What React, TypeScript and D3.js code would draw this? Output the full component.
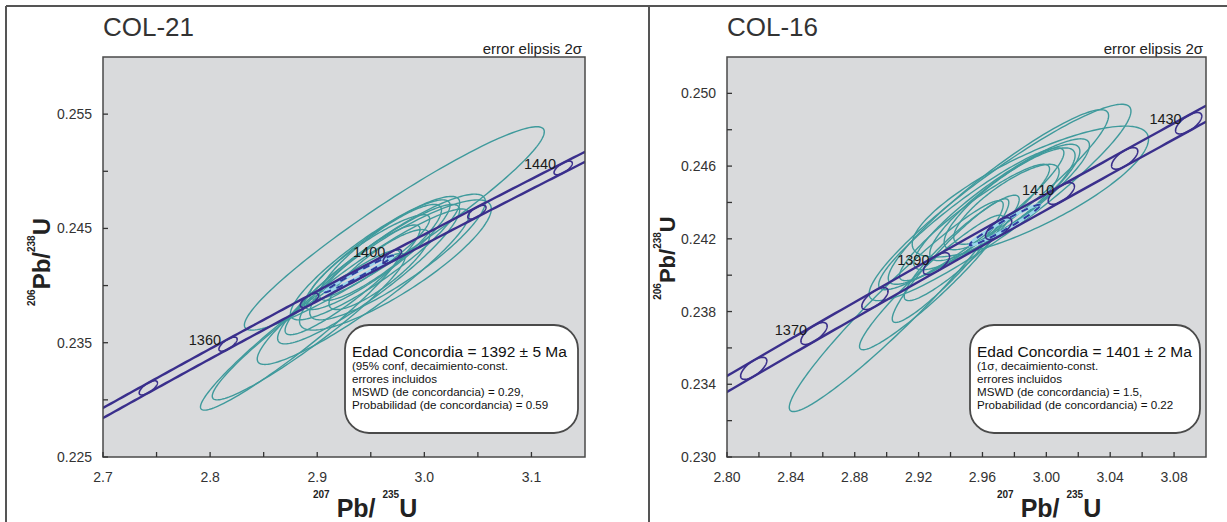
import React from "react";
import * as d3 from "d3";

// decay constants (per Ma)
const L235 = 9.8485e-4;
const L238 = 1.55125e-4;

// ---------- COL-21 ----------
const col21XTicks = [2.7, 2.8, 2.9, 3.0, 3.1];
const col21XMinor = [2.75, 2.85, 2.95, 3.05];
const col21YTicks = [0.225, 0.235, 0.245, 0.255];
const col21YMinor = [0.23, 0.24, 0.25];
const col21Ages = [1340, 1360, 1380, 1400, 1420, 1440];
const col21AgeLabels = [1360, 1400, 1440];
const col21Cx = [2.972, 2.884, 2.892, 2.943, 2.948, 2.973, 2.975, 2.954, 2.956, 2.959, 2.949, 2.933, 2.958];
const col21Cy = [0.2450, 0.2361, 0.2364, 0.2399, 0.2410, 0.2418, 0.2425, 0.2424, 0.2427, 0.2429, 0.2425, 0.2405, 0.2414];
const col21Sx = [0.140, 0.093, 0.090, 0.099, 0.085, 0.0895, 0.082, 0.079, 0.068, 0.057, 0.056, 0.063, 0.047];
const col21Sy = [0.0089, 0.0070, 0.0064, 0.0068, 0.0061, 0.0057, 0.0055, 0.0054, 0.0048, 0.0042, 0.0037, 0.0048, 0.0035];
const col21Rho = [0.95, 0.96, 0.95, 0.93, 0.92, 0.86, 0.88, 0.9, 0.9, 0.88, 0.9, 0.92, 0.85];
const col21Info = [
  "(95% conf, decaimiento-const.",
  "errores incluidos",
  "MSWD (de concordancia) = 0.29,",
  "Probabilidad (de concordancia) = 0.59",
];
const col21Age = 1392;
const col21AgeErr = 5;

// ---------- COL-16 ----------
const col16XTicks = [2.8, 2.84, 2.88, 2.92, 2.96, 3.0, 3.04, 3.08];
const col16XMinor = [2.82, 2.86, 2.9, 2.94, 2.98, 3.02, 3.06];
const col16YTicks = [0.23, 0.234, 0.238, 0.242, 0.246, 0.25];
const col16YMinor = [0.232, 0.236, 0.24, 0.244, 0.248];
const col16Ages = [1360, 1370, 1380, 1390, 1400, 1410, 1420, 1430];
const col16AgeLabels = [1370, 1390, 1410, 1430];
const col16Cx = [2.906, 2.928, 2.940, 2.947, 2.971, 2.970, 2.990, 2.972, 2.974, 2.977, 2.953, 2.975, 2.955];
const col16Cy = [0.2383, 0.2396, 0.2408, 0.2415, 0.2440, 0.2443, 0.2446, 0.2439, 0.2440, 0.2442, 0.2431, 0.2439, 0.2429];
const col16Sx = [0.067, 0.045, 0.0365, 0.036, 0.082, 0.069, 0.074, 0.055, 0.047, 0.041, 0.058, 0.033, 0.047];
const col16Sy = [0.0058, 0.0037, 0.0034, 0.0029, 0.0054, 0.0048, 0.0036, 0.0036, 0.0032, 0.0028, 0.0039, 0.0022, 0.0032];
const col16Rho = [0.96, 0.95, 0.94, 0.92, 0.93, 0.93, 0.8, 0.9, 0.88, 0.85, 0.93, 0.82, 0.92];
const col16Info = [
  "(1σ, decaimiento-const.",
  "errores incluidos",
  "MSWD (de concordancia) = 1.5,",
  "Probabilidad (de concordancia) = 0.22",
];
const col16Age = 1401;
const col16AgeErr = 2;

const FONT = "'Liberation Sans', Arial, Helvetica, sans-serif";
const TEAL = "#3f9a9c";
const NAVY = "#3a2f8c";

const concX = (t: number) => Math.exp(L235 * t) - 1;
const concY = (t: number) => Math.exp(L238 * t) - 1;
const concSlope = (t: number) =>
  (L238 * Math.exp(L238 * t)) / (L235 * Math.exp(L235 * t));

type PanelProps = {
  id: string;
  title: string;
  x0: number; x1: number; y0: number; y1: number;
  xDomain: [number, number];
  yDomain: [number, number];
  xTicks: number[]; xMinor: number[]; yTicks: number[]; yMinor: number[];
  xFmt: string; yFmt: string;
  ages: number[]; ageLabels: number[];
  cx: number[]; cy: number[]; sx: number[]; sy: number[]; rho: number[];
  info: string[]; age: number; ageErr: number;
  band: number; markerA: number; ageA: number;
  yLabelX: number; yLabelY: number; yLabelSize: number;
  xLabelX: number;
  box: [number, number, number, number];
};

function Panel(p: PanelProps) {
  const xs = d3.scaleLinear().domain(p.xDomain).range([p.x0, p.x1]);
  const ys = d3.scaleLinear().domain(p.yDomain).range([p.y1, p.y0]);
  const line = d3
    .line<[number, number]>()
    .x((d) => xs(d[0]))
    .y((d) => ys(d[1]))
    .curve(d3.curveLinear);

  const tMin = Math.log(1 + p.xDomain[0]) / L235 - 30;
  const tMax = Math.log(1 + p.xDomain[1]) / L235 + 30;
  const ts = d3.range(tMin, tMax, 1);
  const upper = ts.map((t) => [concX(t), concY(t) + p.band] as [number, number]);
  const lower = ts.map((t) => [concX(t), concY(t) - p.band] as [number, number]);

  const thetas = d3.range(0, 2 * Math.PI + 0.001, Math.PI / 90);
  const ellipse = (cx: number, cy: number, sx: number, sy: number, r: number) =>
    line(
      thetas.map((th) => [
        cx + sx * Math.cos(th),
        cy + sy * (r * Math.cos(th) + Math.sqrt(1 - r * r) * Math.sin(th)),
      ])
    ) + "Z";
  const sheared = (t: number, a: number, b: number) => {
    const mx = concX(t), my = concY(t), s = concSlope(t);
    return (
      line(
        thetas.map((th) => [
          mx + a * Math.cos(th),
          my + a * s * Math.cos(th) + b * Math.sin(th),
        ])
      ) + "Z"
    );
  };

  const fx = d3.format(p.xFmt);
  const fy = d3.format(p.yFmt);
  const clipId = "clip-" + p.id;
  const [bx, by, bw, bh] = p.box;
  const ls = p.yLabelSize;

  return (
    <g fontFamily={FONT}>
      <defs>
        <clipPath id={clipId}>
          <rect x={p.x0} y={p.y0} width={p.x1 - p.x0} height={p.y1 - p.y0} />
        </clipPath>
      </defs>
      <text x={p.x0} y={36} fontSize={26} fill="#333">{p.title}</text>
      <text x={p.x1 - 3} y={54} fontSize={15} fill="#222" textAnchor="end">
        error elipsis 2σ
      </text>
      <rect x={p.x0} y={p.y0} width={p.x1 - p.x0} height={p.y1 - p.y0} fill="#d9dadc" />
      <g clipPath={`url(#${clipId})`}>
        {p.cx.map((_, i) => (
          <path key={i} d={ellipse(p.cx[i], p.cy[i], p.sx[i], p.sy[i], p.rho[i])}
            fill="none" stroke={TEAL} strokeWidth={1.4} />
        ))}
        <path d={sheared(p.age, p.ageA, p.band * 0.6)} fill="none" stroke="#9bd6ec" strokeWidth={3} />
        <path d={line(upper) || ""} fill="none" stroke={NAVY} strokeWidth={2.4} />
        <path d={line(lower) || ""} fill="none" stroke={NAVY} strokeWidth={2.4} />
        <path d={sheared(p.age, p.ageA, p.band * 0.6)} fill="none" stroke="#2f3d9e"
          strokeWidth={2} strokeDasharray="7 6" />
        {p.ages.map((t) => (
          <path key={t} d={sheared(t, p.markerA, p.band)} fill="none" stroke={NAVY} strokeWidth={1.6} />
        ))}
      </g>
      {p.ageLabels.map((t) => (
        <text key={t} x={xs(concX(t)) - 7} y={ys(concY(t)) + 1} fontSize={14.5}
          fill="#1a1a1a" textAnchor="end">{t}</text>
      ))}
      <rect x={p.x0} y={p.y0} width={p.x1 - p.x0} height={p.y1 - p.y0} fill="none"
        stroke="#4a4a4a" strokeWidth={1.5} />
      {[...p.xTicks, ...p.xMinor].map((v) => (
        <line key={"xt" + v} x1={xs(v)} x2={xs(v)} y1={p.y1} y2={p.y1 - 5} stroke="#333" strokeWidth={1.3} />
      ))}
      {[...p.yTicks, ...p.yMinor].map((v) => (
        <line key={"yt" + v} x1={p.x0} x2={p.x0 + 5} y1={ys(v)} y2={ys(v)} stroke="#333" strokeWidth={1.3} />
      ))}
      {p.xTicks.map((v) => (
        <text key={"xl" + v} x={xs(v)} y={482} fontSize={14} fill="#333" textAnchor="middle">{fx(v)}</text>
      ))}
      {p.yTicks.map((v) => (
        <text key={"yl" + v} x={p.x0 - 11} y={ys(v) + 5} fontSize={14} fill="#333" textAnchor="end">{fy(v)}</text>
      ))}
      <text x={p.xLabelX} y={517} fill="#222" fontWeight="bold">
        <tspan fontSize={10} dy={-19}>207</tspan>
        <tspan fontSize={25} dy={19}> Pb/ </tspan>
        <tspan fontSize={10} dy={-19}>235</tspan>
        <tspan fontSize={25} dy={19}>U</tspan>
      </text>
      <text transform={`translate(${p.yLabelX},${p.yLabelY}) rotate(-90)`} fill="#222"
        fontWeight="bold" textAnchor="middle">
        <tspan fontSize={10} dy={-ls * 0.62}>206</tspan>
        <tspan fontSize={ls} dy={ls * 0.62}>Pb/</tspan>
        <tspan fontSize={10} dy={-ls * 0.62}>238</tspan>
        <tspan fontSize={ls} dy={ls * 0.62}>U</tspan>
      </text>
      <rect x={bx} y={by} width={bw} height={bh} rx={24} ry={24} fill="#ffffff"
        stroke="#4a4a4a" strokeWidth={1.8} />
      <text x={bx + 7} y={by + 32} fontSize={15.5} fill="#111">
        {`Edad Concordia = ${p.age} ± ${p.ageErr} Ma`}
      </text>
      {p.info.map((s, i) => (
        <text key={i} x={bx + 7} y={by + 45 + i * 13} fontSize={11.6} fill="#111">{s}</text>
      ))}
    </g>
  );
}

export default function App() {
  return (
    <svg width={1227} height={522} style={{ position: "absolute", left: 0, top: 0, background: "#fff" }}>
      <rect x={0} y={0} width={1227} height={522} fill="#ffffff" />
      <line x1={6} x2={1227} y1={6} y2={6} stroke="#555" strokeWidth={2} />
      <line x1={6} x2={6} y1={6} y2={522} stroke="#555" strokeWidth={2} />
      <line x1={649} x2={649} y1={6} y2={522} stroke="#555" strokeWidth={2} />
      <Panel id="a" title="COL-21" x0={103} x1={585} y0={57} y1={457}
        xDomain={[2.7, 3.15]} yDomain={[0.225, 0.26]}
        xTicks={col21XTicks} xMinor={col21XMinor} yTicks={col21YTicks} yMinor={col21YMinor}
        xFmt=".1f" yFmt=".3f" ages={col21Ages} ageLabels={col21AgeLabels}
        cx={col21Cx} cy={col21Cy} sx={col21Sx} sy={col21Sy} rho={col21Rho}
        info={col21Info} age={col21Age} ageErr={col21AgeErr}
        band={0.00044} markerA={0.0085} ageA={0.032}
        yLabelX={50} yLabelY={262} yLabelSize={24} xLabelX={313}
        box={[345, 325, 233, 108]} />
      <Panel id="b" title="COL-16" x0={727} x1={1206} y0={57} y1={457}
        xDomain={[2.8, 3.1]} yDomain={[0.23, 0.252]}
        xTicks={col16XTicks} xMinor={col16XMinor} yTicks={col16YTicks} yMinor={col16YMinor}
        xFmt=".2f" yFmt=".3f" ages={col16Ages} ageLabels={col16AgeLabels}
        cx={col16Cx} cy={col16Cy} sx={col16Sx} sy={col16Sy} rho={col16Rho}
        info={col16Info} age={col16Age} ageErr={col16AgeErr}
        band={0.00044} markerA={0.0082} ageA={0.022}
        yLabelX={675} yLabelY={258} yLabelSize={22} xLabelX={997}
        box={[970, 325, 230, 108]} />
    </svg>
  );
}
